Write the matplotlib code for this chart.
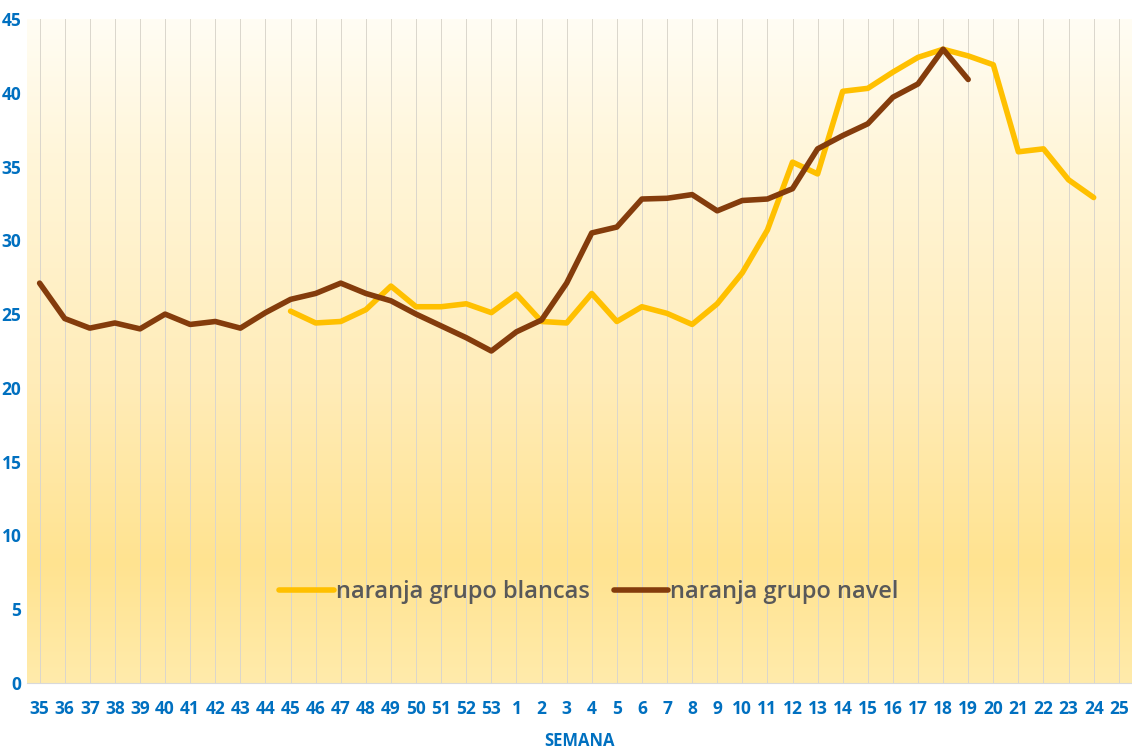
import numpy as np
import matplotlib.pyplot as plt
from matplotlib.colors import LinearSegmentedColormap

# =========================
# DATOS
# =========================
semanas = [str(s) for s in range(35, 54)] + [str(s) for s in range(1, 26)]

navel = [27.1, 24.7, 24.05, 24.4, 24.0, 25.0, 24.3, 24.5, 24.05, 25.1,
         26.0, 26.4, 27.1, 26.4, 25.9, 25.0, 24.2, 23.4, 22.5, 23.8,
         24.6, 27.1, 30.5, 30.9, 32.8, 32.85, 33.1, 32.0, 32.7, 32.8,
         33.5, 36.2, 37.1, 37.9, 39.7, 40.6, 42.95, 40.9]

blancas = [25.2, 24.4, 24.5, 25.3, 26.9, 25.5, 25.5, 25.7, 25.1, 26.35,
           24.5, 24.4, 26.4, 24.5, 25.5, 25.05, 24.3, 25.7, 27.8, 30.7,
           35.3, 34.5, 40.1, 40.3, 41.4, 42.4, 42.95, 42.5, 41.9, 36.0,
           36.2, 34.1, 32.9]
inicio_blancas = semanas.index("45")

azul = '#0070C0'
plt.rcParams['font.family'] = ['Open Sans', 'DejaVu Sans']

fig = plt.figure(figsize=(11.32, 7.48), dpi=100)
ax = fig.add_axes([0.0239, 0.0869, 0.9755, 0.8877])

# fondo degradado
fondo = LinearSegmentedColormap.from_list(
    'fondo', [(0.0, '#FFEBAB'), (0.18, '#FFE390'), (0.45, '#FFECB8'),
              (0.8, '#FFF6DA'), (1.0, '#FFFDF4')])
grad = np.linspace(0, 1, 256).reshape(-1, 1)
ax.imshow(grad, cmap=fondo, aspect='auto', origin='lower',
          extent=[0, 1, 0, 1], transform=ax.transAxes, zorder=0)

x = np.arange(len(semanas))
for xi in x:
    ax.axvline(xi, color='#DAD6CC', lw=0.7, zorder=1)

ax.plot(x[inicio_blancas:inicio_blancas + len(blancas)], blancas,
        color='#FFC000', lw=4, solid_capstyle='round', zorder=3,
        label='naranja grupo blancas')
ax.plot(x[:len(navel)], navel, color='#843C0C', lw=4,
        solid_capstyle='round', zorder=4, label='naranja grupo navel')

ax.set_xlim(-0.5, len(semanas) - 0.5)
ax.set_ylim(0, 45)
ax.set_yticks(range(0, 46, 5))
ax.set_xticks(x)
ax.set_xticklabels(semanas)
ax.tick_params(length=0, labelsize=12.5, labelcolor=azul)
ax.tick_params(axis='x', pad=12)
ax.tick_params(axis='y', pad=4)
for lab in ax.get_xticklabels() + ax.get_yticklabels():
    lab.set_fontweight('bold')

for lado in ['top', 'right', 'left']:
    ax.spines[lado].set_visible(False)
ax.spines['bottom'].set_color('#D9D9D9')

ax.set_xlabel('SEMANA', color=azul, fontweight='bold', fontsize=12, labelpad=10)

ax.legend(loc='center', bbox_to_anchor=(0.509, 0.137), ncol=2, frameon=False,
          labelcolor='#595959', handlelength=2.3,
          handletextpad=0.1, columnspacing=1.0,
          prop={'size': 17, 'weight': 'semibold'})

fig.savefig('out.png', dpi=100)
